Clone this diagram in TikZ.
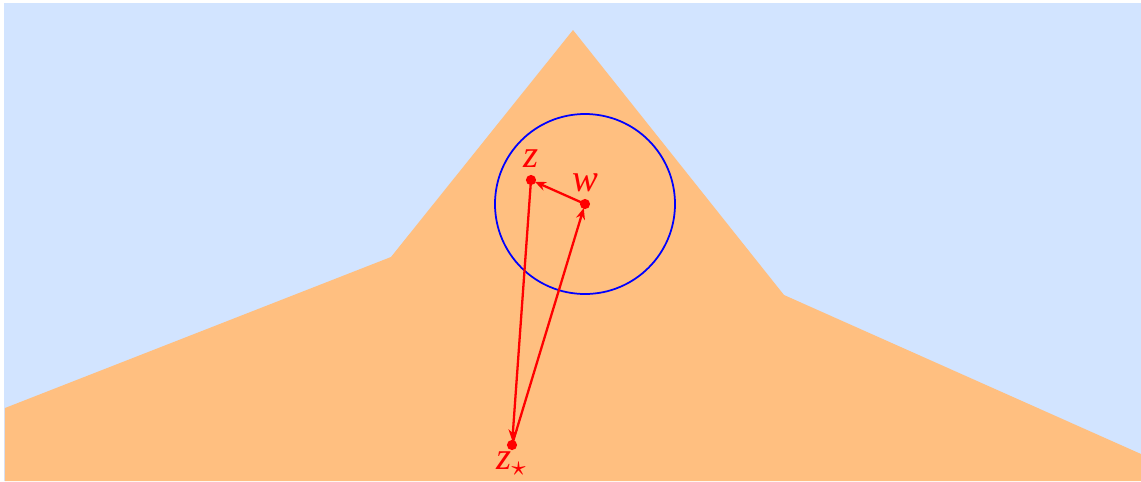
\documentclass[tikz,border=0pt]{standalone}
\usepackage{fontspec}
\setmainfont{Liberation Serif}
\usetikzlibrary{arrows.meta}
\definecolor{skyblue}{RGB}{210,228,255}
\definecolor{sandorange}{RGB}{255,191,128}
\begin{document}
\begin{tikzpicture}[x=0.01cm,y=-0.01cm,line join = round, line cap=round,>={Stealth[length=3.2pt,width=2.6pt]},font=\fontsize{11}{13}\selectfont\itshape]
	\useasboundingbox (0,0) rectangle (1141,481);
	\fill[skyblue] (4,3) rectangle (1141,481);
	
	\path
	(5,408) coordinate (P0)
	(391,257) coordinate (P1)
	(573,30) coordinate (P2)
	(784,295) coordinate (P3)
	(1141,454) coordinate (P4)
	(1141,481) coordinate (P5)
	(5,481) coordinate (P6);
	
	\fill[sandorange]
	(P0)
	\foreach \i in {1,...,6} { -- (P\i) }
	-- cycle;
	
	\path
	(585,204) coordinate (w)
	(531,180) coordinate (z)
	(512,445) coordinate (zs);
	
	\draw[blue,line width=0.5pt] (w) circle (90);
	
	\draw[red,line width=0.65pt,->,shorten >=1.2pt] (w) -- (z);
	\draw[red,line width=0.65pt,->,shorten >=1.2pt] (z) -- (zs);
	\draw[red,line width=0.65pt,->,shorten >=1.2pt] (zs) -- (w);
	
	\foreach \p in {z,w,zs} {
		\fill[red] (\p) circle (1.45pt);
	}
	\node[red,above=0pt] (zlabel) at (z) {z};
	\node[red,above=0pt] (wlabel) at (w) {w};
	\node[red,below=-1.5pt] (zslabel) at (zs) {z$_\star$};
	
\end{tikzpicture}
\end{document}
